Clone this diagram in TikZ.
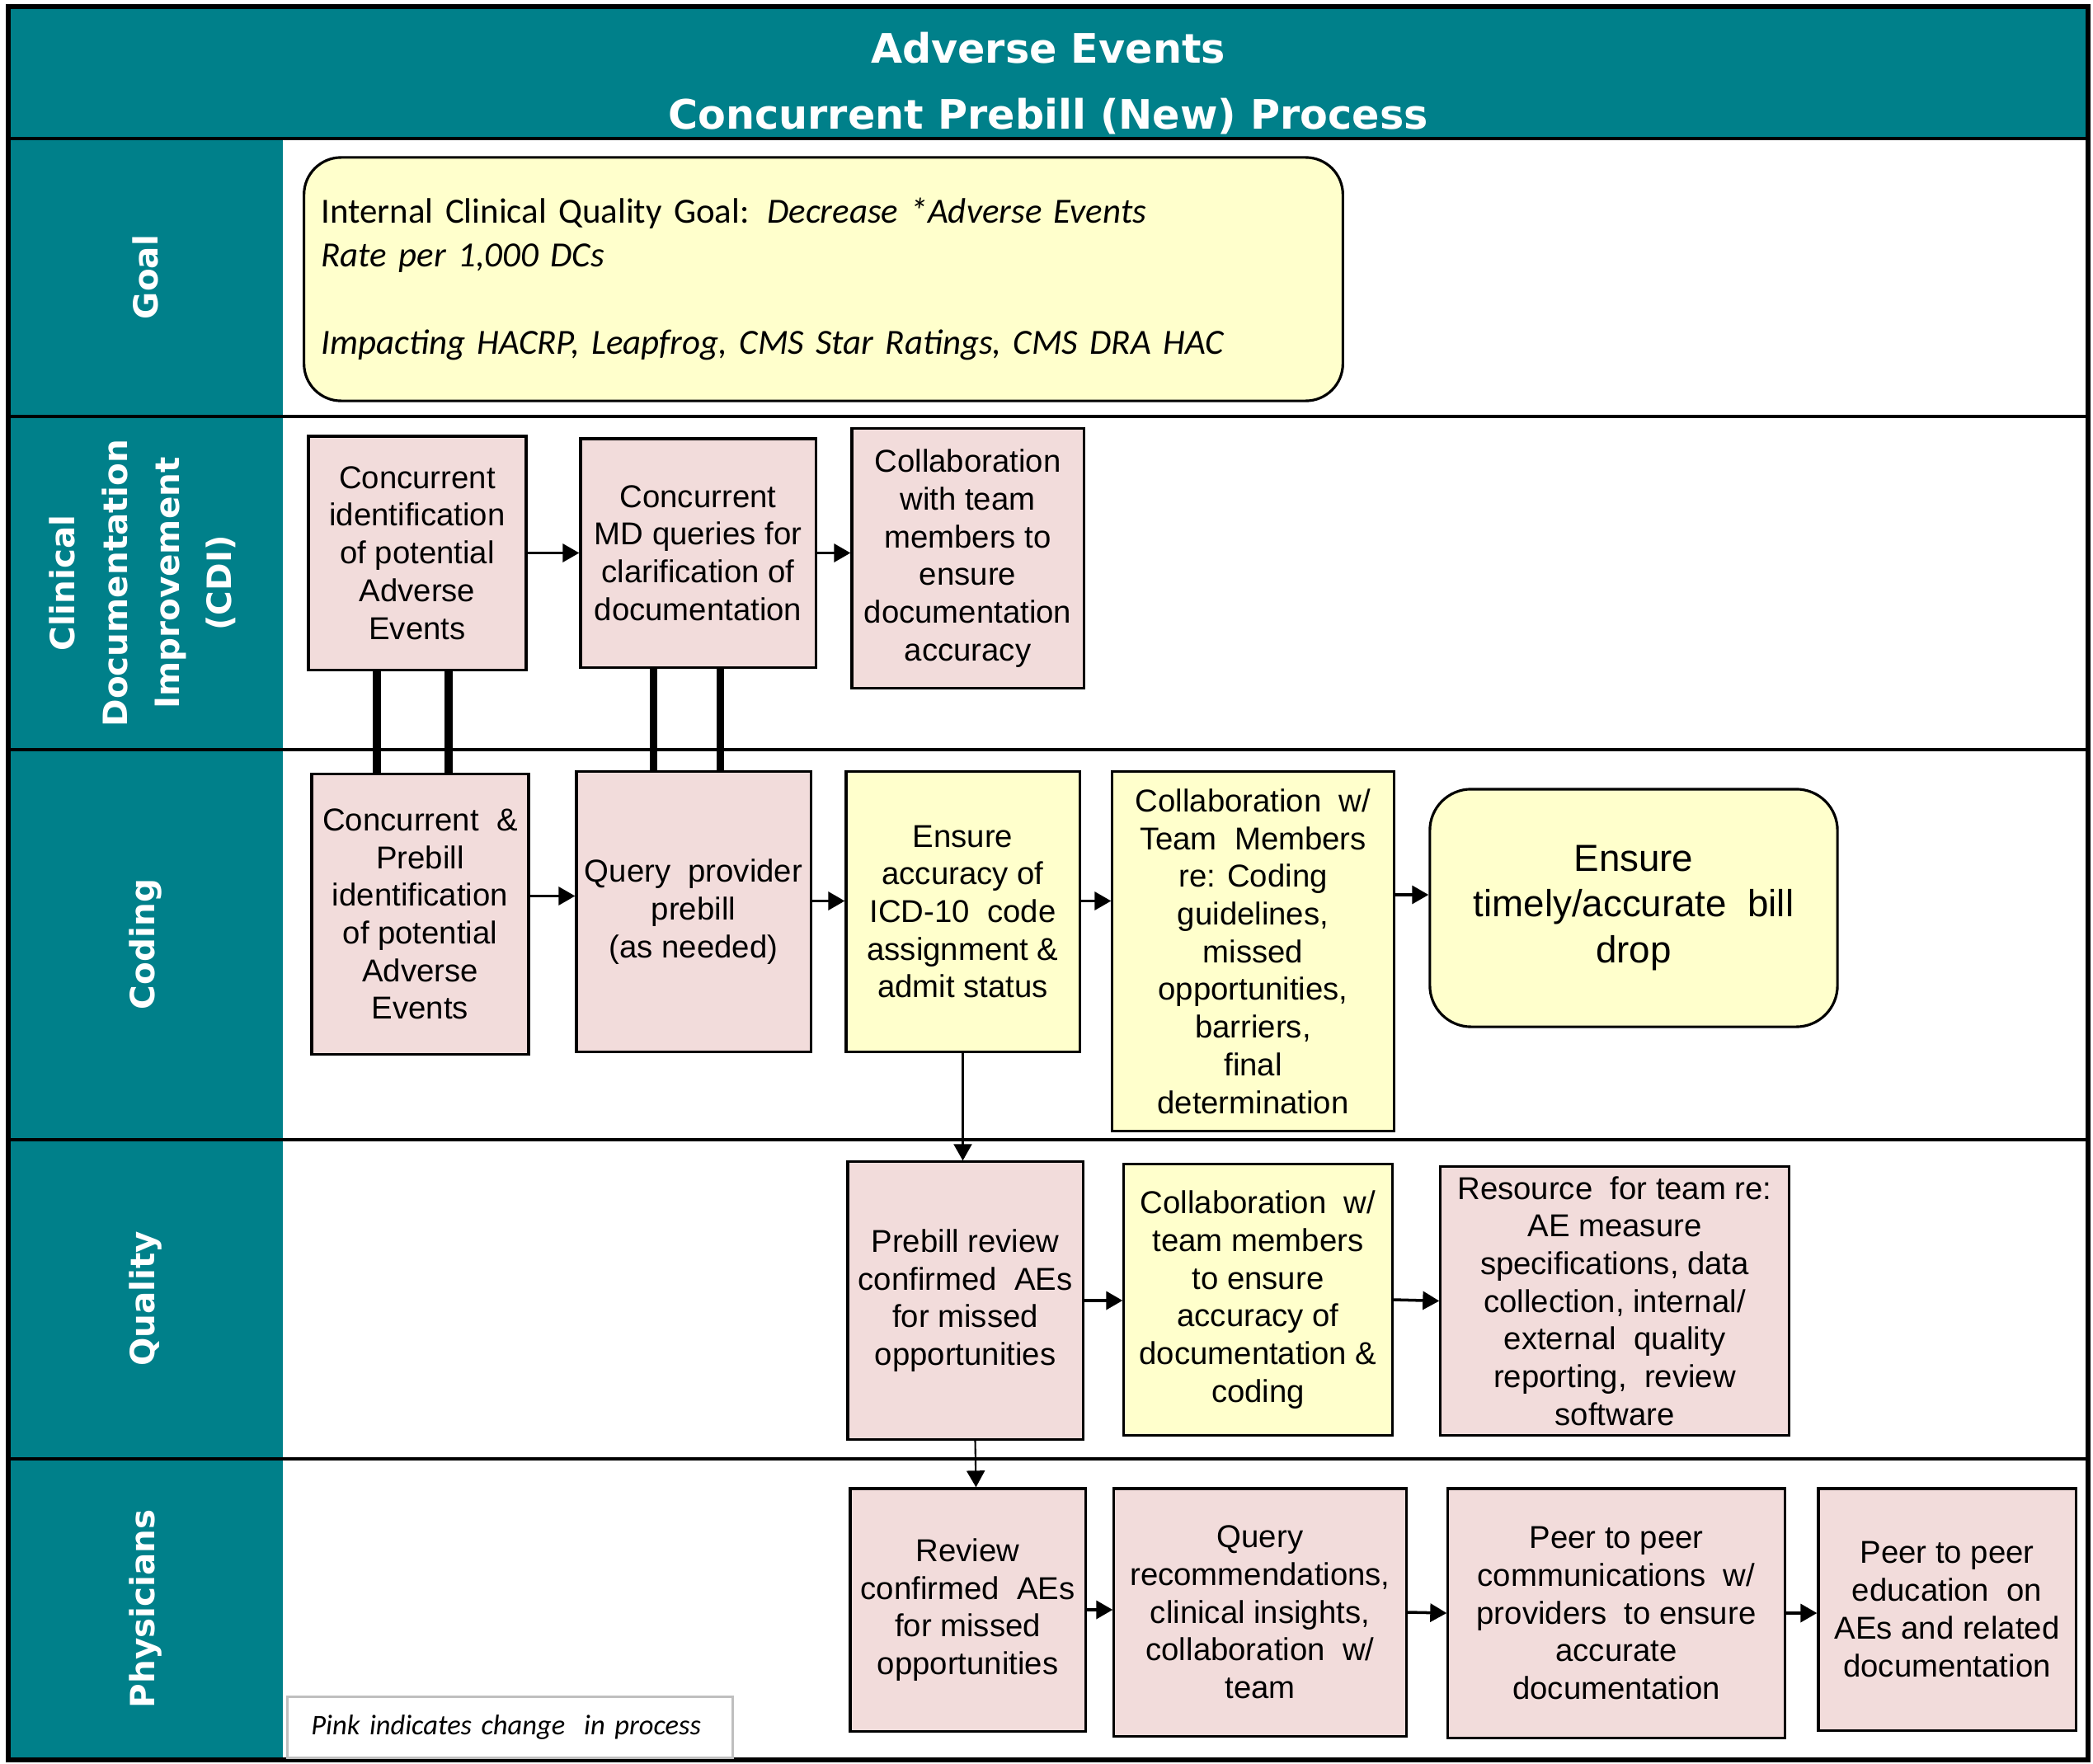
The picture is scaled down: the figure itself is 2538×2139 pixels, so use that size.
\documentclass[tikz,border=0pt]{standalone}
\usepackage{fontspec}
\setmainfont{Liberation Sans}
\newfontfamily\lanefont{DejaVu Sans}
\newfontfamily\goalfont{Carlito}
\usetikzlibrary{arrows.meta, positioning, calc}

\definecolor{laneteal}{RGB}{0,128,138}
\definecolor{chgpink}{RGB}{242,220,219}
\definecolor{keepyel}{RGB}{255,255,204}

\begin{document}
\begin{tikzpicture}[
  x=0.01cm, y=-0.01cm,
  font=\fontsize{10.9}{13}\selectfont,
  >={Triangle[length=2mm,width=2.2mm]},
  pinkbox/.style={draw=black, line width=0.9pt, fill=chgpink, align=center, inner sep=2pt},
  yelbox/.style={draw=black, line width=0.9pt, fill=keepyel, align=center, inner sep=2pt},
  lanelab/.style={rotate=90, text=white, align=center,
                  font=\lanefont\bfseries\fontsize{11.5}{18}\selectfont},
  lane/.style={line width=1.3pt},
  link/.style={line width=2.6pt},
  arr/.style={->, line width=1pt},
  darr/.style={->, line width=0.6pt}
]
\useasboundingbox (0,0) rectangle (2538,2139);

\fill[laneteal] (10,8) rectangle (2532,168);
\fill[laneteal] (10,168) rectangle (343,2134);
\foreach \ly in {168,505,909,1382,1769}
  \draw[lane] (10,\ly) -- (2532,\ly);
\draw[line width=1.6pt] (10,8) rectangle (2532,2134);

\node[text=white, align=center, font=\lanefont\bfseries\fontsize{14}{22.8}\selectfont]
  (title) at (1271,101) {Adverse Events\\Concurrent Prebill (New) Process};

\node[lanelab] (lgoal) at (176,336) {Goal};
\node[lanelab] (lcdi) at (173,707) {Clinical\\Documentation\\Improvement\\(CDI)};
\node[lanelab] (lcod) at (176,1145) {Coding};
\node[lanelab] (lqual) at (176,1575) {Quality};
\node[lanelab] (lphys) at (176,1951) {Physicians};

\node[draw=black, line width=0.9pt, fill=keepyel, rounded corners=0.45cm,
      minimum width=12.59cm, minimum height=2.95cm, inner xsep=0.21cm,
      text width=12.17cm, align=left, font=\goalfont\fontsize{12.2}{15}\selectfont]
  (goal) at (998.5,338.5)
  {Internal Clinical Quality Goal: \textit{Decrease *Adverse Events}\\
   \textit{Rate per 1,000 DCs}\\[15pt]
   \textit{Impacting HACRP, Leapfrog, CMS Star Ratings, CMS DRA HAC}};

\node[pinkbox, minimum width=2.64cm, minimum height=2.83cm] (c1) at (506,670.5)
  {Concurrent\\identification\\of potential\\Adverse\\Events};
\node[pinkbox, minimum width=2.85cm, minimum height=2.77cm] (c2) at (846.5,670.5)
  {Concurrent\\MD queries for\\clarification of\\documentation};
\node[pinkbox, minimum width=2.81cm, minimum height=3.14cm] (c3) at (1173.5,677)
  {Collaboration\\with team\\members to\\ensure\\documentation\\accuracy};

\node[pinkbox, minimum width=2.63cm, minimum height=3.39cm] (d1) at (509.5,1108.5)
  {Concurrent \ \&\\Prebill\\identification\\of potential\\Adverse\\Events};
\node[pinkbox, minimum width=2.84cm, minimum height=3.39cm] (d2) at (841,1105.5)
  {Query \ provider\\prebill\\(as needed)};
\node[yelbox, minimum width=2.83cm, minimum height=3.39cm] (d3) at (1167.5,1105.5)
  {Ensure\\accuracy of\\ICD-10 \ code\\assignment \&\\admit status};
\node[yelbox, minimum width=3.41cm, minimum height=4.35cm] (d4) at (1519.5,1153.5)
  {Collaboration \ w/\\Team \ Members\\re: Coding\\guidelines,\\missed\\opportunities,\\barriers,\\final\\determination};
\node[yelbox, rounded corners=0.5cm, minimum width=4.94cm, minimum height=2.88cm,
      font=\fontsize{13}{15.8}\selectfont] (d5) at (1981,1101)
  {Ensure\\timely/accurate \ bill\\drop};

\node[pinkbox, minimum width=2.85cm, minimum height=3.36cm] (q1) at (1170.5,1577)
  {Prebill review\\confirmed \ AEs\\for missed\\opportunities};
\node[yelbox, minimum width=3.25cm, minimum height=3.28cm] (q2) at (1525.5,1576)
  {Collaboration \ w/\\team members\\to ensure\\accuracy of\\documentation \&\\coding};
\node[pinkbox, minimum width=4.22cm, minimum height=3.25cm] (q3) at (1958,1577.5)
  {Resource \ for team re:\\AE measure\\specifications, data\\collection, internal/\\external \ quality\\reporting, \ review\\software};

\node[pinkbox, minimum width=2.85cm, minimum height=2.94cm] (p1) at (1173.5,1952)
  {Review\\confirmed \ AEs\\for missed\\opportunities};
\node[pinkbox, minimum width=3.54cm, minimum height=3.00cm] (p2) at (1528,1955)
  {Query\\recommendations,\\clinical insights,\\collaboration \ w/\\team};
\node[pinkbox, minimum width=4.08cm, minimum height=3.02cm] (p3) at (1960,1956)
  {Peer to peer\\communications \ w/\\providers \ to ensure\\accurate\\documentation};
\node[pinkbox, minimum width=3.12cm, minimum height=2.93cm] (p4) at (2361,1951.5)
  {Peer to peer\\education \ on\\AEs and related\\documentation};

\node[draw=black!25, line width=0.8pt, fill=white, anchor=north west,
      minimum height=0.74cm, inner xsep=0.29cm, text width=4.82cm, align=left,
      font=\goalfont\itshape\fontsize{9.8}{12}\selectfont]
  (legend) at (347,2056) {Pink indicates change \ in process};

\draw[link] ([xshift=-0.49cm]c1.south) -- ([xshift=-0.49cm]c1.south |- d1.north);
\draw[link] ([xshift=0.38cm]c1.south) -- ([xshift=0.38cm]c1.south |- d1.north);
\draw[link] ([xshift=-0.54cm]c2.south) -- ([xshift=-0.54cm]c2.south |- d2.north);
\draw[link] ([xshift=0.27cm]c2.south) -- ([xshift=0.27cm]c2.south |- d2.north);

\draw[arr] (c1.east) -- (c1.east -| c2.west);
\draw[arr] (c2.east) -- (c2.east -| c3.west);
\draw[arr] ([yshift=0.22cm]d1.east) -- ([yshift=0.22cm]d1.east -| d2.west);
\draw[arr] ([yshift=0.13cm]d2.east) -- ([yshift=0.13cm]d2.east -| d3.west);
\draw[arr] ([yshift=0.13cm]d3.east) -- ([yshift=0.13cm]d3.east -| d4.west);
\draw[arr] ([yshift=0.16cm]d5.west -| d4.east) -- ([yshift=0.16cm]d5.west);
\draw[darr] (d3.south) -- (d3.south |- q1.north);
\draw[arr] (q1.east) -- (q1.east -| q2.west);
\draw[arr] (q2.east) -- (q3.west);
\draw[darr] ([xshift=0.12cm]q1.south) -- ([xshift=0.1cm]p1.north);
\draw[arr] (p1.east) -- (p1.east -| p2.west);
\draw[arr] (p2.east) -- (p3.west);
\draw[arr] (p3.east) -- (p3.east -| p4.west);

\end{tikzpicture}
\end{document}
